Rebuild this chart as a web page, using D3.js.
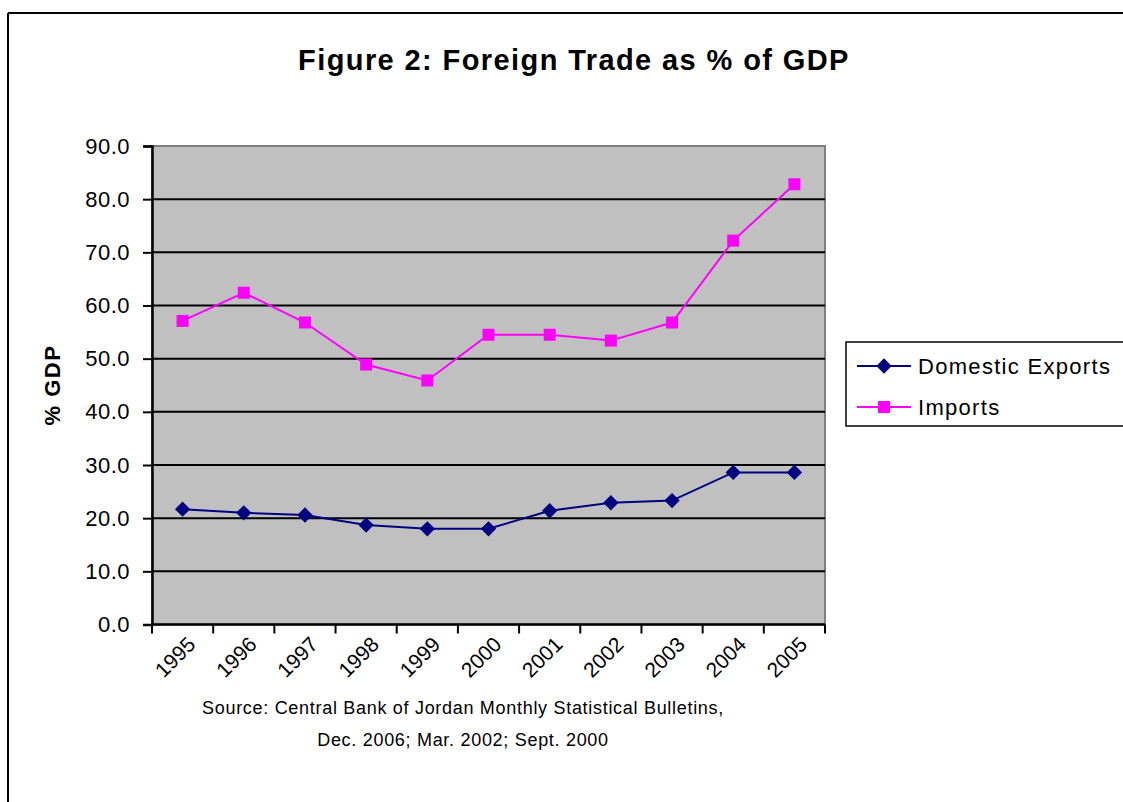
<!DOCTYPE html>
<html>
<head>
<meta charset="utf-8">
<script src="https://cdn.jsdelivr.net/npm/d3@7"></script>
<style>
  html, body { margin: 0; padding: 0; background: #fff; }
  svg { display: block; font-family: "Liberation Sans", Arial, sans-serif; }
</style>
</head>
<body>
<svg id="chart" width="1123" height="802"></svg>
<script>
const years = ["1995","1996","1997","1998","1999","2000","2001","2002","2003","2004","2005"];
const domesticExports = [21.7, 21.0, 20.6, 18.7, 18.0, 18.0, 21.4, 22.9, 23.3, 28.6, 28.6];
const imports = [57.1, 62.4, 56.8, 48.9, 45.9, 54.5, 54.5, 53.4, 56.8, 72.2, 82.8];
const yTicks = [0, 10, 20, 30, 40, 50, 60, 70, 80, 90];
const seriesNames = ["Domestic Exports", "Imports"];
const titleText = "Figure 2: Foreign Trade as % of GDP";
const yLabel = "% GDP";
const sourceLines = ["Source: Central Bank of Jordan Monthly Statistical Bulletins,", "Dec. 2006; Mar. 2002; Sept. 2000"];

const svg = d3.select("#chart");
const plot = { left: 152, top: 146, right: 825, bottom: 624.5 };

// outer chart border (left & top visible)
svg.append("line").attr("x1", 8).attr("x2", 1123).attr("y1", 13).attr("y2", 13).attr("stroke", "#000").attr("stroke-width", 2);
svg.append("line").attr("x1", 8).attr("x2", 8).attr("y1", 13).attr("y2", 802).attr("stroke", "#000").attr("stroke-width", 2);

// title
svg.append("text").attr("x", 574).attr("y", 70).attr("text-anchor", "middle")
  .attr("font-size", 29).attr("font-weight", "bold").attr("letter-spacing", 1.4).text(titleText);

const x = d3.scaleBand().domain(years).range([plot.left, plot.right]).padding(0);
const y = d3.scaleLinear().domain([0, 90]).range([plot.bottom, plot.top]);

// plot area background
svg.append("rect").attr("x", plot.left).attr("y", plot.top)
  .attr("width", plot.right - plot.left).attr("height", plot.bottom - plot.top)
  .attr("fill", "#C0C0C0").attr("stroke", "#808080").attr("stroke-width", 2);

// gridlines
svg.append("g").selectAll("line").data(yTicks.filter(d => d > 0 && d < 90)).join("line")
  .attr("x1", plot.left).attr("x2", plot.right)
  .attr("y1", d => y(d)).attr("y2", d => y(d))
  .attr("stroke", "#000").attr("stroke-width", 2);

// y axis
const yAxis = d3.axisLeft(y).tickValues(yTicks).tickFormat(d3.format(".1f")).tickSize(9).tickPadding(13);
const gy = svg.append("g").attr("transform", `translate(${plot.left},0)`).call(yAxis);
gy.select(".domain").attr("stroke", "#000").attr("stroke-width", 2.5);
gy.selectAll(".tick line").attr("stroke", "#000").attr("stroke-width", 2);
gy.selectAll(".tick text").attr("font-size", 22).attr("letter-spacing", 0.5).attr("fill", "#000")
  .attr("font-family", "Liberation Sans, Arial, sans-serif");

// x axis
const boundaries = years.map(d => x(d)).concat([plot.right]);
const xg = svg.append("g");
xg.append("line").attr("x1", plot.left).attr("x2", plot.right).attr("y1", plot.bottom).attr("y2", plot.bottom)
  .attr("stroke", "#000").attr("stroke-width", 2.5);
xg.selectAll("line.tk").data(boundaries).join("line").attr("class", "tk")
  .attr("x1", d => d).attr("x2", d => d).attr("y1", plot.bottom).attr("y2", plot.bottom + 9)
  .attr("stroke", "#000").attr("stroke-width", 2);
xg.selectAll("text").data(years).join("text")
  .attr("transform", d => `translate(${x(d) + x.bandwidth() / 2 + 9},${plot.bottom + 16}) rotate(-45)`)
  .attr("text-anchor", "end").attr("dy", "0.35em")
  .attr("font-size", 21).text(d => d);

// y label
svg.append("text").attr("transform", `translate(60,385) rotate(-90)`)
  .attr("text-anchor", "middle").attr("font-size", 22).attr("font-weight", "bold").attr("letter-spacing", 1.5).text(yLabel);

// lines
const cx = d => x(d) + x.bandwidth() / 2;
const line = d3.line().x((v, i) => cx(years[i])).y(v => y(v));
svg.append("path").datum(domesticExports).attr("d", line).attr("fill", "none").attr("stroke", "#000080").attr("stroke-width", 2);
svg.append("path").datum(imports).attr("d", line).attr("fill", "none").attr("stroke", "#FF00FF").attr("stroke-width", 2);

const diamond = d3.symbol().type(d3.symbolDiamond2).size(150);
svg.append("g").selectAll("path").data(domesticExports).join("path")
  .attr("transform", (v, i) => `translate(${cx(years[i])},${y(v)})`)
  .attr("d", diamond).attr("fill", "#000080");
svg.append("g").selectAll("rect").data(imports).join("rect")
  .attr("x", (v, i) => cx(years[i]) - 6).attr("y", v => y(v) - 6)
  .attr("width", 12).attr("height", 12).attr("fill", "#FF00FF");

// legend
const lg = svg.append("g");
lg.append("rect").attr("x", 846).attr("y", 342).attr("width", 280).attr("height", 84)
  .attr("fill", "#fff").attr("stroke", "#000").attr("stroke-width", 1.5);
const legendColors = ["#000080", "#FF00FF"];
seriesNames.forEach((name, i) => {
  const ly = 366 + i * 41;
  lg.append("line").attr("x1", 857).attr("x2", 911).attr("y1", ly).attr("y2", ly)
    .attr("stroke", legendColors[i]).attr("stroke-width", 2);
  if (i === 0) {
    lg.append("path").attr("transform", `translate(884,${ly})`).attr("d", diamond).attr("fill", legendColors[i]);
  } else {
    lg.append("rect").attr("x", 878).attr("y", ly - 6).attr("width", 12).attr("height", 12).attr("fill", legendColors[i]);
  }
  lg.append("text").attr("x", 918).attr("y", ly).attr("dy", "0.35em").attr("font-size", 22)
    .attr("letter-spacing", 1.3).text(name);
});

// source
sourceLines.forEach((t, i) => {
  svg.append("text").attr("x", 463).attr("y", 714 + i * 32).attr("text-anchor", "middle")
    .attr("font-size", 18).attr("letter-spacing", 0.7).text(t);
});
</script>
</body>
</html>
